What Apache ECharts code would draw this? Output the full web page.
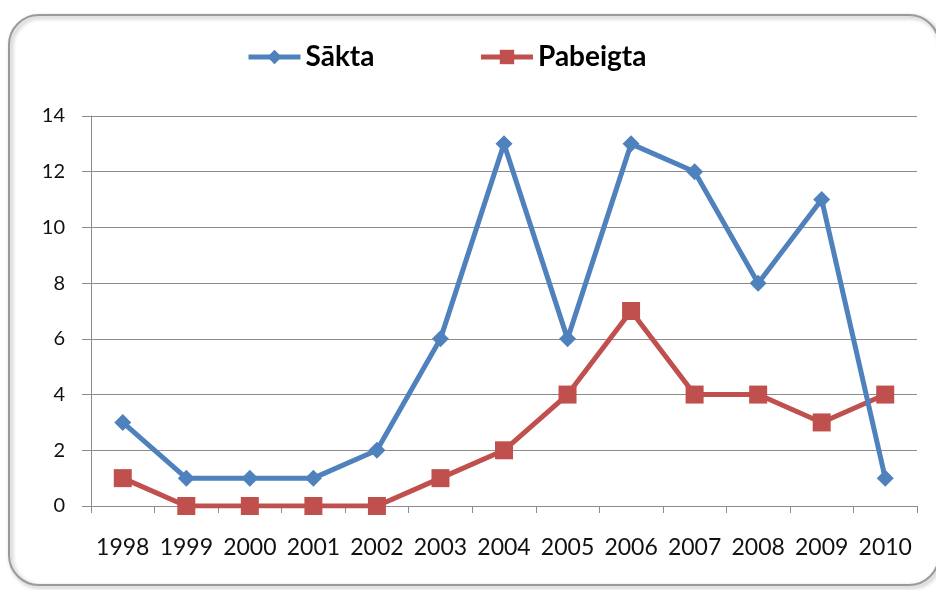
<!DOCTYPE html>
<html>
<head>
<meta charset="utf-8">
<script src="https://cdn.jsdelivr.net/npm/echarts@6/dist/echarts.min.js"></script>
<style>
  html, body { margin: 0; padding: 0; background: #fff; }
  #chart { width: 936px; height: 590px; }
</style>
</head>
<body>
<div id="chart"></div>
<script>
// Dati
const years = ['1998', '1999', '2000', '2001', '2002', '2003', '2004', '2005', '2006', '2007', '2008', '2009', '2010'];
const sakta = [3, 1, 1, 1, 2, 6, 13, 6, 13, 12, 8, 11, 1];
const pabeigta = [1, 0, 0, 0, 0, 1, 2, 4, 7, 4, 4, 3, 4];

const chart = echarts.init(document.getElementById('chart'));
const font = 'Lato, "Open Sans", sans-serif';

chart.setOption({
  backgroundColor: '#fff',
  animation: false,
  textStyle: { fontFamily: font },
  graphic: [{
    type: 'rect',
    shape: { x: 9, y: 15, width: 930, height: 570, r: 30 },
    style: {
      fill: 'transparent', stroke: '#9a9a9a', lineWidth: 2,
      shadowBlur: 4, shadowColor: 'rgba(0,0,0,0.35)', shadowOffsetX: 2, shadowOffsetY: 2
    },
    z: -1
  }],
  legend: {
    left: 241,
    top: 38,
    itemWidth: 52,
    itemHeight: 18,
    itemGap: 104,
    lineStyle: { width: 5 },
    textStyle: { fontSize: 28, fontWeight: 'bold', color: '#000', fontFamily: font },
    data: ['Sākta', 'Pabeigta']
  },
  grid: { left: 91, right: 19, top: 116, bottom: 84 },
  xAxis: {
    type: 'category',
    data: years,
    boundaryGap: true,
    axisLine: { lineStyle: { color: '#8c8c8c', width: 1 } },
    axisTick: { show: true, length: 7, lineStyle: { color: '#8c8c8c' } },
    axisLabel: { color: '#111', fontSize: 23, margin: 30, interval: 0, fontFamily: font }
  },
  yAxis: {
    type: 'value',
    min: 0,
    max: 14,
    interval: 2,
    axisLine: { show: true, lineStyle: { color: '#8c8c8c', width: 1 } },
    axisTick: { show: true, length: 9, lineStyle: { color: '#8c8c8c' } },
    splitLine: { lineStyle: { color: '#8c8c8c', width: 1 } },
    axisLabel: { color: '#111', fontSize: 20, margin: 26, fontFamily: font }
  },
  series: [
    {
      name: 'Sākta',
      type: 'line',
      data: sakta,
      symbol: 'diamond',
      symbolSize: 17,
      color: '#4F81BD',
      lineStyle: { width: 5, color: '#4F81BD' },
      itemStyle: { color: '#4F81BD' },
      z: 3
    },
    {
      name: 'Pabeigta',
      type: 'line',
      data: pabeigta,
      symbol: 'rect',
      symbolSize: 18,
      color: '#C0504D',
      lineStyle: { width: 5, color: '#C0504D' },
      itemStyle: { color: '#C0504D' },
      z: 2
    }
  ]
});
</script>
</body>
</html>
